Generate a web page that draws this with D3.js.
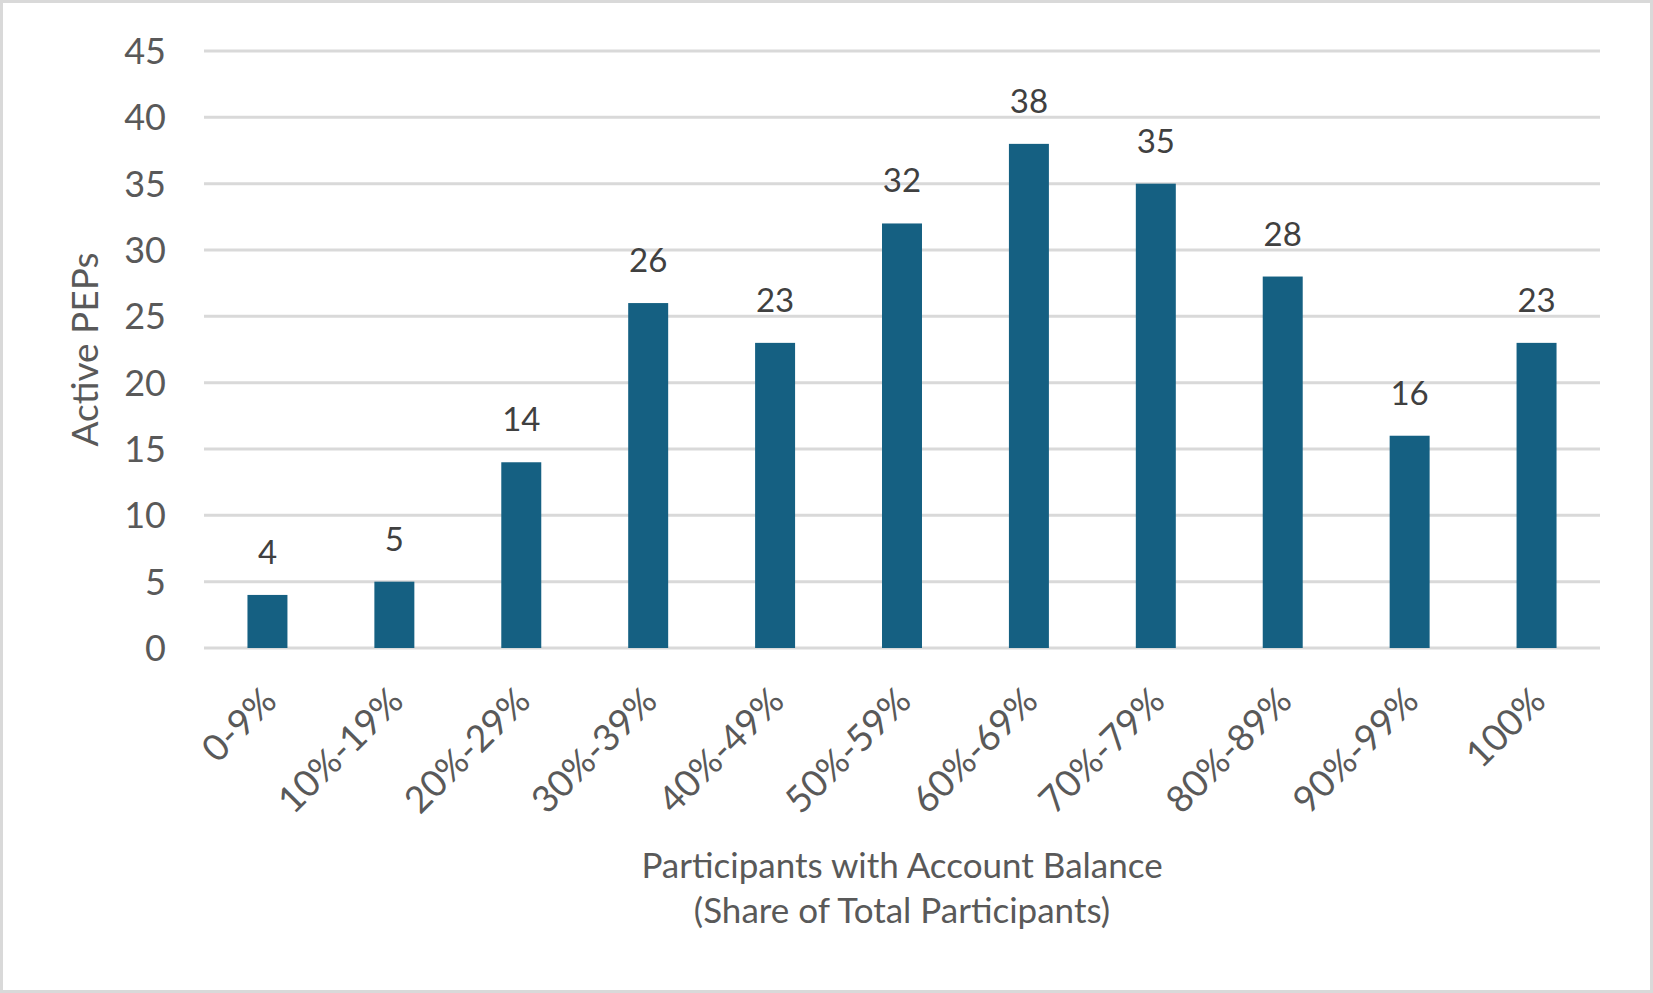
<!DOCTYPE html>
<html>
<head>
<meta charset="utf-8">
<script src="https://cdn.jsdelivr.net/npm/d3@7"></script>
<style>
  body { margin: 0; background: #fff; }
  text { font-family: Lato, "Open Sans", sans-serif; }
</style>
</head>
<body>
<svg id="chart"></svg>
<script>
const categories = ["0-9%", "10%-19%", "20%-29%", "30%-39%", "40%-49%", "50%-59%",
                    "60%-69%", "70%-79%", "80%-89%", "90%-99%", "100%"];
const values = [4, 5, 14, 26, 23, 32, 38, 35, 28, 16, 23];
const yTicks = [0, 5, 10, 15, 20, 25, 30, 35, 40, 45];
const yTitle = "Active PEPs";
const xTitle = ["Participants with Account Balance", "(Share of Total Participants)"];

const W = 1653, H = 993;
const margin = { top: 51, right: 53, bottom: 345, left: 204 },
      width = W - margin.left - margin.right,
      height = H - margin.top - margin.bottom;

const root = d3.select("#chart").attr("width", W).attr("height", H);

// outer frame
root.append("rect")
    .attr("x", 1.5).attr("y", 1.5)
    .attr("width", W - 3).attr("height", H - 3)
    .attr("fill", "#fff")
    .attr("stroke", "#d9d9d9")
    .attr("stroke-width", 3);

const svg = root.append("g")
    .attr("transform", `translate(${margin.left},${margin.top})`);

const x = d3.scaleBand().domain(categories).range([0, width]).paddingInner(0.685).paddingOuter(0.3425);
const y = d3.scaleLinear().domain([0, 45]).range([height, 0]);

// gridlines
svg.append("g")
    .selectAll("line")
    .data(yTicks)
    .enter().append("line")
    .attr("x1", 0).attr("x2", width)
    .attr("y1", d => y(d)).attr("y2", d => y(d))
    .attr("stroke", "#d9d9d9")
    .attr("stroke-width", 3);

// y axis labels
const yAxis = svg.append("g")
    .attr("transform", "translate(-38,0)")
    .call(d3.axisLeft(y).tickValues(yTicks).tickSize(0).tickPadding(0));
yAxis.select(".domain").remove();
yAxis.selectAll("text")
    .style("font-size", "36px")
    .attr("fill", "#595959")
    .attr("dy", "0.35em");

// bars
svg.selectAll(".bar")
    .data(values)
    .enter().append("rect")
    .attr("class", "bar")
    .attr("x", (d, i) => x(categories[i]))
    .attr("y", d => y(d))
    .attr("width", x.bandwidth())
    .attr("height", d => height - y(d))
    .attr("fill", "#156082");

// value labels
svg.selectAll(".label")
    .data(values)
    .enter().append("text")
    .attr("class", "label")
    .attr("x", (d, i) => x(categories[i]) + x.bandwidth() / 2)
    .attr("y", d => y(d) - 31)
    .attr("text-anchor", "middle")
    .style("font-size", "33px")
    .attr("fill", "#404040")
    .text(d => d);

// x category labels, rotated
svg.append("g")
    .selectAll("text")
    .data(categories)
    .enter().append("text")
    .attr("transform", d => `translate(${x(d) + x.bandwidth() / 2 + 2},${height + 46}) rotate(-45)`)
    .attr("text-anchor", "end")
    .attr("dy", "0.35em")
    .style("font-size", "37px")
    .attr("fill", "#595959")
    .text(d => d);

// y title
svg.append("text")
    .attr("transform", `translate(-106,${height / 2}) rotate(-90)`)
    .attr("text-anchor", "middle")
    .style("font-size", "37px")
    .attr("fill", "#595959")
    .text(yTitle);

// x title
svg.append("g")
    .selectAll("text")
    .data(xTitle)
    .enter().append("text")
    .attr("x", width / 2)
    .attr("y", (d, i) => height + 230 + i * 45)
    .attr("text-anchor", "middle")
    .style("font-size", "35px")
    .attr("fill", "#595959")
    .text(d => d);
</script>
</body>
</html>
